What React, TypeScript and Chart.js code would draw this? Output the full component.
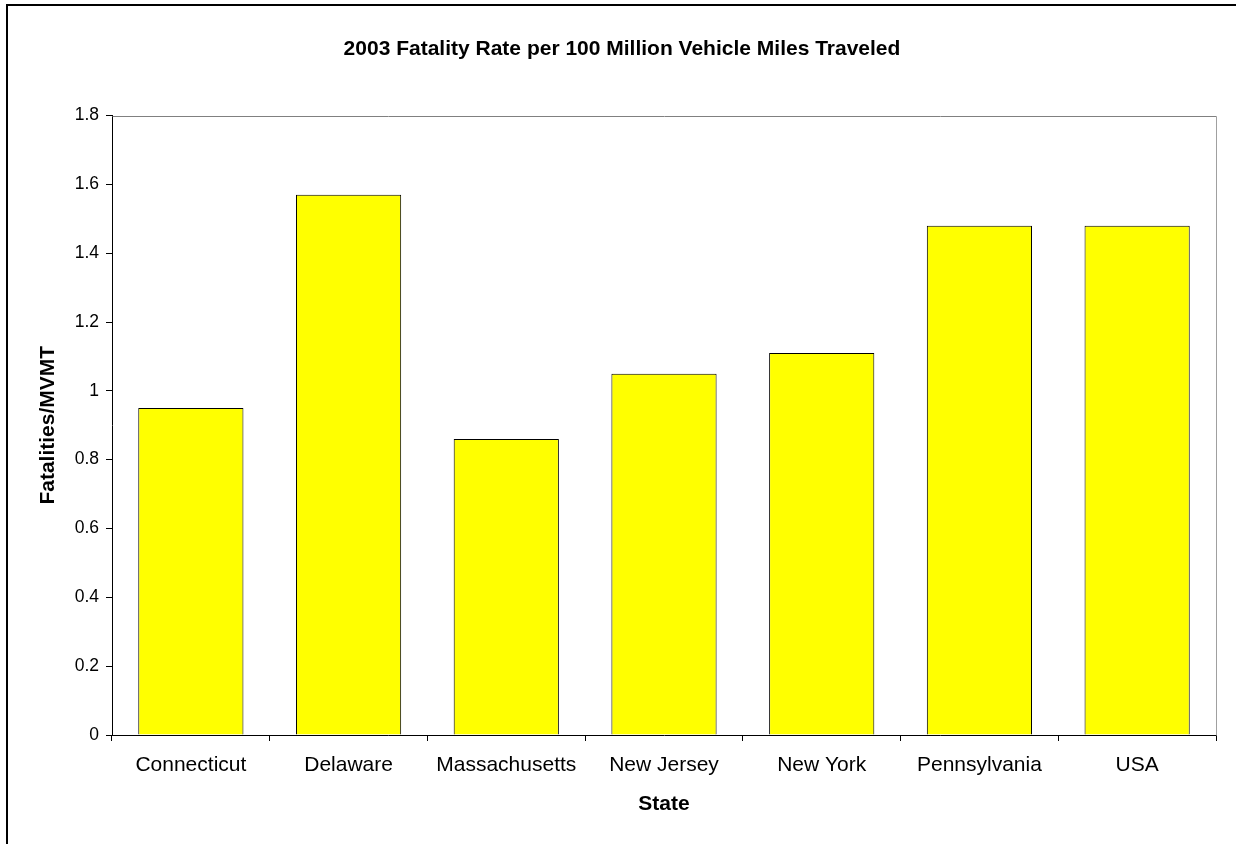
import React, { useEffect, useRef } from "react";
import { Chart, registerables } from "chart.js";

Chart.register(...registerables);

const chartTitle = "2003 Fatality Rate per 100 Million Vehicle Miles Traveled";
const states = ["Connecticut", "Delaware", "Massachusetts", "New Jersey", "New York", "Pennsylvania", "USA"];
const fatalityRates = [0.95, 1.57, 0.86, 1.05, 1.11, 1.48, 1.48];
const yTickLabels = ["0", "0.2", "0.4", "0.6", "0.8", "1", "1.2", "1.4", "1.6", "1.8"];
const xAxisTitle = "State";
const yAxisTitle = "Fatalities/MVMT";

const FONT = '"Liberation Sans", Arial, Helvetica, sans-serif';

const framePlugin = {
  id: "frame",
  beforeDraw(chart: any) {
    const { ctx, width, height } = chart;
    ctx.save();
    ctx.fillStyle = "#ffffff";
    ctx.fillRect(0, 0, width, height);
    ctx.strokeStyle = "#000000";
    ctx.lineWidth = 2;
    ctx.beginPath();
    ctx.moveTo(7, height + 2);
    ctx.lineTo(7, 5);
    ctx.lineTo(width + 2, 5);
    ctx.stroke();
    ctx.restore();
  },
  afterDraw(chart: any) {
    const { ctx, chartArea } = chart;
    const { left, right, top, bottom } = chartArea;
    ctx.save();
    ctx.lineWidth = 1;
    ctx.strokeStyle = "#808080";
    ctx.beginPath();
    ctx.moveTo(Math.round(left) + 0.5, Math.round(top) + 0.5);
    ctx.lineTo(Math.round(right) + 0.5, Math.round(top) + 0.5);
    ctx.stroke();
    ctx.strokeStyle = "#a0a0a0";
    ctx.beginPath();
    ctx.moveTo(Math.round(right) + 0.5, Math.round(top) + 0.5);
    ctx.lineTo(Math.round(right) + 0.5, Math.round(bottom) + 0.5);
    ctx.stroke();
    ctx.restore();
  },
};

export default function App() {
  const canvasRef = useRef<HTMLCanvasElement | null>(null);

  useEffect(() => {
    const canvas = canvasRef.current;
    if (!canvas) return;
    Chart.defaults.font.family = FONT;
    const chart = new Chart(canvas, {
      type: "bar",
      data: {
        labels: states,
        datasets: [
          {
            data: fatalityRates,
            backgroundColor: "#FFFF00",
            borderColor: "#000000",
            borderWidth: 1,
            barPercentage: 0.667,
            categoryPercentage: 1,
          },
        ],
      },
      options: {
        responsive: false,
        animation: false,
        layout: { padding: { left: 28, right: 20, top: 0, bottom: 0 } },
        plugins: {
          legend: { display: false },
          tooltip: { enabled: false },
          title: {
            display: true,
            text: chartTitle,
            color: "#000000",
            font: { family: FONT, size: 21, weight: "bold" },
            padding: { top: 36.4, bottom: 53.9 },
          },
        },
        scales: {
          x: {
            grid: {
              display: true,
              drawOnChartArea: false,
              drawTicks: true,
              tickLength: 6,
              color: "#000000",
              offset: true,
            },
            border: { display: true, color: "#000000", width: 1 },
            ticks: {
              color: "#000000",
              font: { family: FONT, size: 21 },
              padding: 12,
              maxRotation: 0,
              minRotation: 0,
              autoSkip: false,
            },
            title: {
              display: true,
              text: xAxisTitle,
              color: "#000000",
              font: { family: FONT, size: 21, weight: "bold" },
              padding: { top: 0, bottom: 27.4 },
            },
            afterFit(scale: any) {
              scale.height = 109;
            },
          },
          y: {
            min: 0,
            max: 1.8,
            grid: {
              display: true,
              drawOnChartArea: false,
              drawTicks: true,
              tickLength: 6,
              color: "#000000",
            },
            border: { display: true, color: "#000000", width: 1 },
            ticks: {
              stepSize: 0.2,
              color: "#000000",
              font: { family: FONT, size: 17.5 },
              padding: 7,
              callback: (_value: any, index: number) => yTickLabels[index],
            },
            title: {
              display: true,
              text: yAxisTitle,
              color: "#000000",
              font: { family: FONT, size: 21, weight: "bold" },
              padding: { top: 7.4, bottom: 0 },
            },
            afterFit(scale: any) {
              scale.width = 84;
            },
          },
        },
      },
      plugins: [framePlugin],
    });
    return () => chart.destroy();
  }, []);

  return (
    <div style={{ position: "fixed", left: 0, top: 0, width: 1236, height: 844, background: "#fff" }}>
      <canvas ref={canvasRef} width={1236} height={844} style={{ display: "block" }} />
    </div>
  );
}
